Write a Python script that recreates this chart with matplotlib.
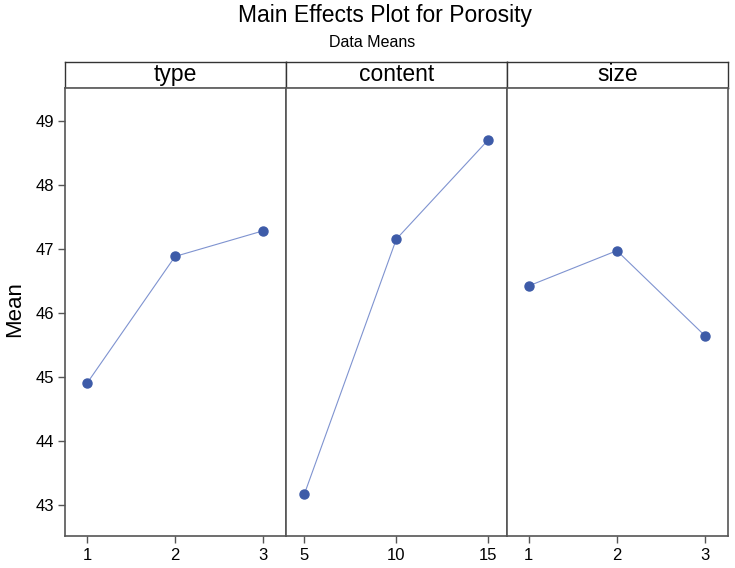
import matplotlib
matplotlib.use("Agg")
import matplotlib.pyplot as plt

plt.rcParams['font.family'] = ['Liberation Sans', 'DejaVu Sans']

# data means
factors = ["type", "content", "size"]
levels = [[1, 2, 3], [5, 10, 15], [1, 2, 3]]
means = [
    [44.90, 46.88, 47.28],
    [43.17, 47.15, 48.70],
    [46.42, 46.97, 45.64],
]
xlims = [(0.75, 3.26), (4.0, 16.02), (0.754, 3.26)]
yticks = [43, 44, 45, 46, 47, 48, 49]

W, H = 735, 568
fig = plt.figure(figsize=(W / 100, H / 100), dpi=100)

left, right = 65, 728
head_top, plot_top, plot_bot = 62, 88, 535.7
pw = (right - left) / 3
edge = "#555555"

for i, name in enumerate(factors):
    x0 = left + i * pw
    # header strip
    hax = fig.add_axes([x0 / W, 1 - plot_top / H, pw / W, (plot_top - head_top) / H])
    hax.set_xticks([])
    hax.set_yticks([])
    for s in hax.spines.values():
        s.set_color("#333333")
        s.set_linewidth(1.0)
    hax.text(0.5, (plot_top - 81) / (plot_top - head_top), name, ha="center", va="baseline",
             fontsize=16.5, transform=hax.transAxes)

    ax = fig.add_axes([x0 / W, 1 - plot_bot / H, pw / W, (plot_bot - plot_top) / H])
    ax.plot(levels[i], means[i], color="#7f93d0", lw=0.8, zorder=2)
    ax.plot(levels[i], means[i], "o", color="#3d5ba8", ms=6.5, zorder=3)
    ax.set_xlim(*xlims[i])
    ax.set_ylim(42.52, 49.51)
    ax.set_xticks(levels[i])
    ax.set_xticklabels([str(v) for v in levels[i]], fontsize=12)
    ax.tick_params(axis="x", direction="out", length=5, width=1, color=edge, pad=4)
    if i == 0:
        ax.set_yticks(yticks)
        ax.set_yticklabels([str(v) for v in yticks], fontsize=12)
        ax.tick_params(axis="y", direction="out", length=5, width=1, color=edge, pad=3)
    else:
        ax.set_yticks([])
    for s in ax.spines.values():
        s.set_color(edge)
        s.set_linewidth(1.2)

fig.text(15 / W, 1 - 309 / H, "Mean", rotation=90, ha="center", va="center", fontsize=16)
fig.text(384.5 / W, 1 - 22 / H, "Main Effects Plot for Porosity", ha="center", va="baseline", fontsize=16.5)
fig.text(372.5 / W, 1 - 47 / H, "Data Means", ha="center", va="baseline", fontsize=11.5)

fig.savefig("out.png", dpi=100)
